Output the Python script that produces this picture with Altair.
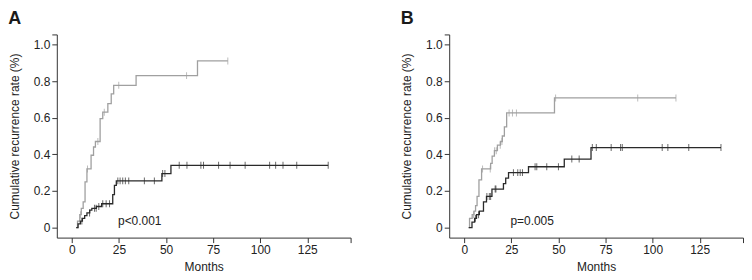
import altair as alt
import pandas as pd

FONT = "Liberation Sans"
GRAY = "#a0a0a0"
DARK = "#2a2a2a"
AXIS = "#333333"

# ---------------- Panel A ----------------
a_hi_t = [2.3, 3.0, 4.2, 5.0, 6.0, 7.0, 8.0, 10.2, 11.5, 12.5, 15.0, 16.4, 19.1, 20.9, 22.2, 34.1, 66.7]
a_hi_v = [0.0, 0.035, 0.07, 0.105, 0.14, 0.25, 0.32, 0.395, 0.44, 0.47, 0.595, 0.63, 0.677, 0.73, 0.777, 0.83, 0.91]
a_hi_end = 82.8
a_hi_cens = [4.6, 8.3, 13.8, 17.2, 24.9, 60.9, 82.8]

a_lo_t = [2.3, 3.3, 4.5, 5.6, 6.8, 8.0, 9.5, 10.6, 13.0, 15.8, 21.7, 22.6, 23.6, 47.8, 52.6]
a_lo_v = [0.0, 0.02, 0.035, 0.05, 0.065, 0.08, 0.095, 0.105, 0.115, 0.13, 0.18, 0.23, 0.255, 0.295, 0.34]
a_lo_end = 136.1
a_lo_cens = [5.3, 9.4, 12.0, 12.9, 14.3, 16.4, 18.2, 20.0, 24.4, 25.6, 27.0, 28.4, 30.2,
             38.5, 43.8, 48.2, 49.4, 57.0, 61.1, 68.5, 69.9, 77.9, 84.0, 92.0, 105.0,
             108.2, 112.1, 119.4, 136.1]
a_label = "A"
a_ptext = "p<0.001"

# ---------------- Panel B ----------------
b_hi_t = [2.6, 2.8, 4.2, 5.2, 6.0, 6.8, 7.8, 9.2, 14.0, 14.8, 16.0, 17.6, 19.2, 20.2, 21.3, 22.5, 47.9]
b_hi_v = [0.0, 0.05, 0.07, 0.09, 0.12, 0.17, 0.26, 0.32, 0.35, 0.39, 0.42, 0.45, 0.47, 0.50, 0.55, 0.626, 0.708]
b_hi_end = 112.4
b_hi_cens = [4.9, 9.7, 13.8, 16.1, 17.0, 19.1, 20.0, 23.8, 25.6, 27.7, 48.5, 92.1, 112.4]

b_lo_t = [2.3, 4.1, 5.5, 6.5, 8.0, 10.2, 11.8, 14.7, 20.8, 22.0, 23.5, 34.1, 53.1, 67.3]
b_lo_v = [0.0, 0.03, 0.05, 0.07, 0.09, 0.14, 0.17, 0.21, 0.24, 0.27, 0.30, 0.332, 0.374, 0.437]
b_lo_end = 136.3
b_lo_cens = [5.9, 7.6, 12.0, 13.3, 14.0, 16.4, 16.8, 26.1, 28.4, 29.7, 30.9, 37.6, 38.5,
             43.8, 50.0, 57.1, 61.0, 68.0, 70.1, 78.0, 83.0, 83.9, 105.1, 108.1, 119.2, 136.3]
b_label = "B"
b_ptext = "p=0.005"

x_ticks = [0, 25, 50, 75, 100, 125, 148]
y_ticks = [0, 0.2, 0.4, 0.6, 0.8, 1.0, 1.055]


def step_at(ts, vs, t):
    v = vs[0]
    for ti, vi in zip(ts, vs):
        if ti <= t:
            v = vi
    return v


def panel(letter, hi_t, hi_v, hi_end, hi_cens, lo_t, lo_v, lo_end, lo_cens, ptext):
    rows, cens = [], []
    for grp, ts, vs, end, cs in [("hi", hi_t, hi_v, hi_end, hi_cens),
                                  ("lo", lo_t, lo_v, lo_end, lo_cens)]:
        for t, v in zip(ts, vs):
            rows.append({"group": grp, "month": t, "rate": v})
        rows.append({"group": grp, "month": end, "rate": vs[-1]})
        for c in cs:
            cens.append({"group": grp, "month": c, "rate": step_at(ts, vs, c)})
    df = pd.DataFrame(rows)
    dc = pd.DataFrame(cens)

    xs = alt.Scale(domain=[-8, 148], nice=False, zero=False)
    ys = alt.Scale(domain=[-0.055, 1.055], nice=False, zero=False)
    col = alt.Color("group:N", scale=alt.Scale(domain=["hi", "lo"], range=[GRAY, DARK]), legend=None)

    x_enc = alt.X("month:Q", scale=xs, title="Months",
                  axis=alt.Axis(values=x_ticks, labelOverlap=False, labelBound=False,
                                labelExpr="datum.value > 140 ? '' : datum.label"))
    y_enc = alt.Y("rate:Q", scale=ys, title="Cumulative recurrence rate (%)",
                  axis=alt.Axis(values=y_ticks, labelOverlap=False, labelBound=False,
                                labelExpr="datum.value > 1.01 ? '' : (datum.value == 0 ? '0' : format(datum.value, '.1f'))"))

    lines = alt.Chart(df).mark_line(interpolate="step-after", strokeWidth=1.3).encode(
        x=x_enc, y=y_enc, color=col, detail="group:N")
    ticks = alt.Chart(dc).mark_tick(orient="vertical", size=7, thickness=1).encode(
        x=x_enc, y=y_enc, color=col)
    ptxt = alt.Chart(pd.DataFrame({"month": [24.5], "rate": [0.035], "t": [ptext]})).mark_text(
        align="left", baseline="middle", font=FONT, fontSize=12, color="#222").encode(
        x=x_enc, y=y_enc, text="t:N")

    return alt.layer(lines, ticks, ptxt).properties(
        width=295, height=204,
        title=alt.TitleParams(letter, anchor="start", frame="bounds", fontSize=18,
                              fontWeight="bold", font=FONT, color="#1a1a1a", offset=0))


pa = panel(a_label, a_hi_t, a_hi_v, a_hi_end, a_hi_cens, a_lo_t, a_lo_v, a_lo_end, a_lo_cens, a_ptext)
pb = panel(b_label, b_hi_t, b_hi_v, b_hi_end, b_hi_cens, b_lo_t, b_lo_v, b_lo_end, b_lo_cens, b_ptext)

chart = alt.hconcat(pa, pb, spacing=49).properties(
    padding={"left": 0, "top": 2, "right": 0, "bottom": 0}
).configure_view(stroke=None).configure_axis(
    grid=False, domainColor=AXIS, tickColor=AXIS, tickSize=5, labelPadding=2,
    labelOverlap=False, labelFont=FONT, titleFont=FONT, labelFontSize=12, titleFontSize=12,
    titleFontWeight="normal", labelColor="#222", titleColor="#222",
).configure_axisY(titlePadding=12).configure_axisX(titlePadding=6)

chart.save("out.html", embed_options={"renderer": "svg", "actions": False})
